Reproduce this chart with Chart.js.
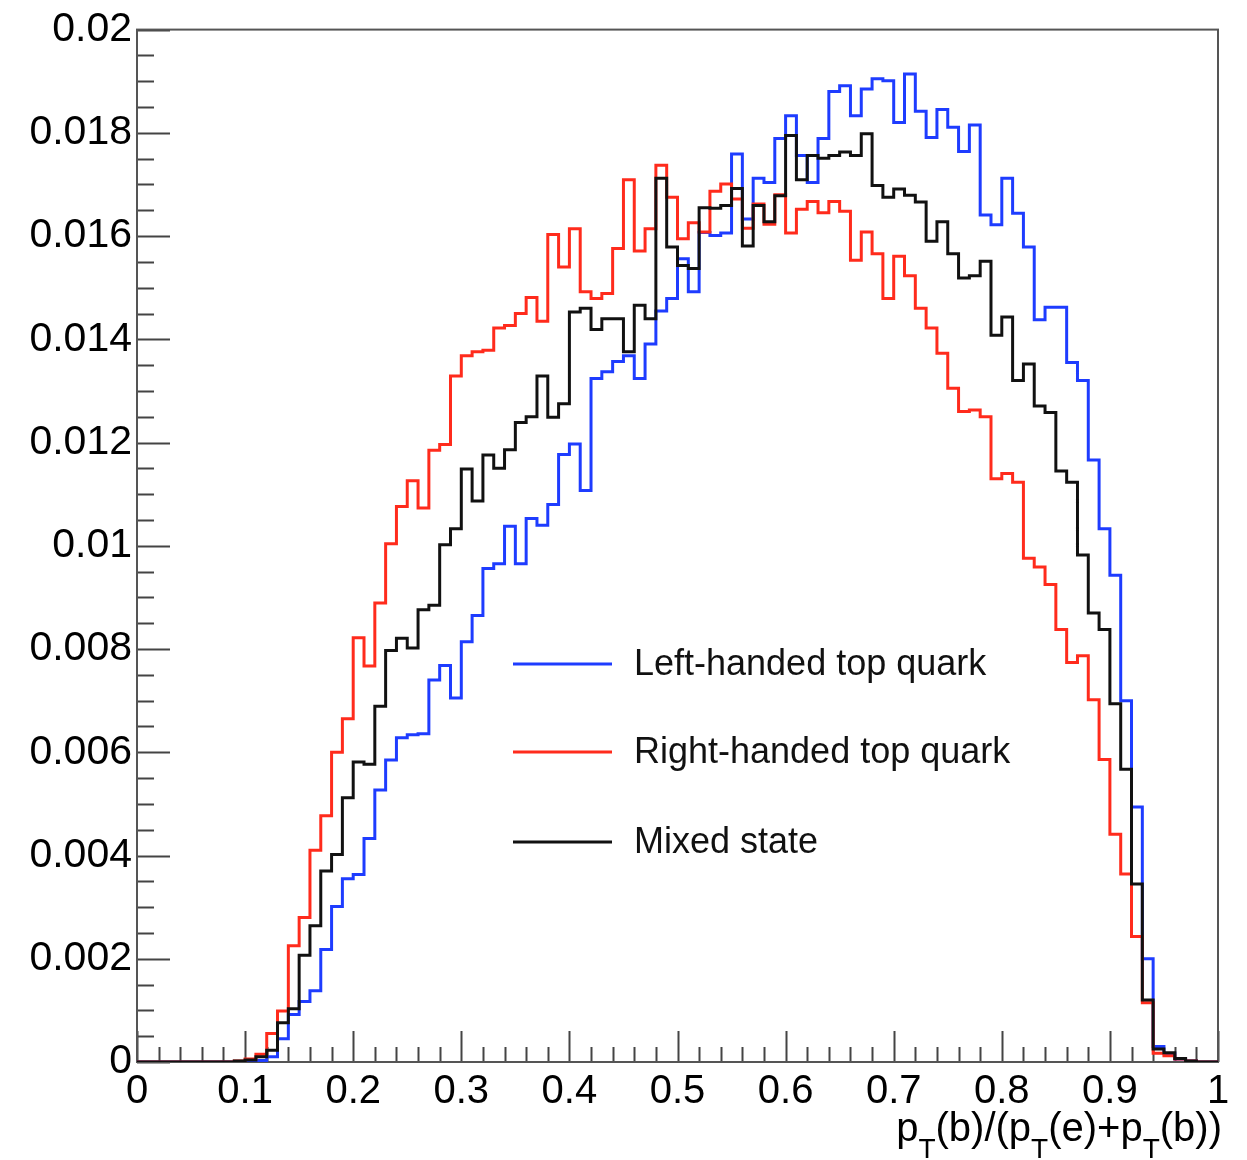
<!DOCTYPE html>
<html>
<head>
<meta charset="utf-8">
<title>pT(b)/(pT(e)+pT(b))</title>
<script src="https://cdn.jsdelivr.net/npm/chart.js"></script>
<style>
  body { margin: 0; background: #fff; }
  #wrap { width: 1247px; height: 1160px; position: relative; }
</style>
</head>
<body>
<div id="wrap"><canvas id="ptChart"></canvas></div>
<script>
// 100 bins between 0 and 1
const nBins = 100;
const xMin = 0, xMax = 1;
const binEdges = Array.from({ length: nBins + 1 }, (_, i) => xMin + (xMax - xMin) * i / nBins);

const seriesNames = ['Left-handed top quark', 'Right-handed top quark', 'Mixed state'];

const leftHanded = [
  0, 0, 0, 0, 0, 0, 0, 0, 0, 0,
  0, 0.00003, 0.0001, 0.00045, 0.00092, 0.00117, 0.00138, 0.00218, 0.00301, 0.00355,
  0.00363, 0.00433, 0.00527, 0.00585, 0.00628, 0.00634, 0.00636, 0.0074, 0.00768, 0.00705,
  0.00814, 0.00865, 0.00956, 0.00965, 0.01038, 0.00965, 0.01053, 0.0104, 0.0108, 0.01177,
  0.01197, 0.01107, 0.01324, 0.01337, 0.01357, 0.01368, 0.01324, 0.01391, 0.01455, 0.01479,
  0.01556, 0.01492, 0.01607, 0.01601, 0.01606, 0.01759, 0.01633, 0.01712, 0.01704, 0.01789,
  0.01833, 0.01756, 0.01704, 0.01789, 0.0188, 0.01891, 0.01833, 0.01885, 0.01905, 0.01901,
  0.0182, 0.01914, 0.01842, 0.01791, 0.01845, 0.01811, 0.01764, 0.01815, 0.01641, 0.01622,
  0.01712, 0.01644, 0.01579, 0.01438, 0.01462, 0.01462, 0.01355, 0.0132, 0.01166, 0.01033,
  0.00943, 0.007, 0.00494, 0.002, 0.0003, 0.00016, 0.00006, 0.00002, 0, 0
];

const rightHanded = [
  0, 0, 0, 0, 0, 0, 0, 0, 0, 0.00002,
  0.00006, 0.00015, 0.00055, 0.00099, 0.00225, 0.0028, 0.0041, 0.00477, 0.006, 0.00665,
  0.00822, 0.00767, 0.00889, 0.01004, 0.01076, 0.01126, 0.01073, 0.01185, 0.01196, 0.01329,
  0.01368, 0.01376, 0.01379, 0.01422, 0.01427, 0.0145, 0.01481, 0.01435, 0.01603, 0.0154,
  0.01614, 0.01492, 0.01479, 0.01489, 0.01576, 0.01709, 0.01571, 0.01614, 0.01737, 0.01675,
  0.01595, 0.01626, 0.01608, 0.01687, 0.01701, 0.01672, 0.01615, 0.01662, 0.01623, 0.0168,
  0.01606, 0.01652, 0.01667, 0.01645, 0.01667, 0.01648, 0.01553, 0.01608, 0.01566, 0.01479,
  0.01561, 0.01523, 0.0146, 0.01422, 0.01373, 0.01305, 0.0126, 0.01263, 0.0125, 0.0113,
  0.0114, 0.01123, 0.00976, 0.00959, 0.00925, 0.00838, 0.00774, 0.00787, 0.00702, 0.00586,
  0.00441, 0.00364, 0.00243, 0.00115, 0.00017, 0.00012, 0.00006, 0.00002, 0, 0
];

const mixed = [
  0, 0, 0, 0, 0, 0, 0, 0, 0, 0.00002,
  0.00004, 0.0001, 0.00023, 0.00076, 0.00103, 0.00207, 0.00264, 0.0037, 0.00402, 0.00512,
  0.00581, 0.00577, 0.00689, 0.00797, 0.00821, 0.00802, 0.00876, 0.00885, 0.01002, 0.01033,
  0.01149, 0.01087, 0.01176, 0.0115, 0.01186, 0.01239, 0.0125, 0.01329, 0.01249, 0.01275,
  0.01453, 0.0146, 0.01419, 0.0144, 0.0144, 0.01376, 0.01466, 0.0144, 0.01712, 0.01579,
  0.01543, 0.01537, 0.01655, 0.01654, 0.01659, 0.01692, 0.01581, 0.01659, 0.01628, 0.01678,
  0.01795, 0.01709, 0.01756, 0.01751, 0.01756, 0.01763, 0.01756, 0.01798, 0.01698, 0.01675,
  0.01691, 0.01679, 0.01666, 0.0159, 0.01628, 0.01566, 0.01519, 0.01523, 0.01551, 0.01408,
  0.01443, 0.0132, 0.01352, 0.01271, 0.01258, 0.01145, 0.01123, 0.00982, 0.0087, 0.00838,
  0.00694, 0.00567, 0.00345, 0.0012, 0.00025, 0.00018, 0.00007, 0.00002, 0, 0
];

const colors = ['#1e3cff', '#ff2b1c', '#111111'];
const FONT = "'Liberation Sans', Arial, Helvetica, sans-serif";

// histogram -> step points at bin low edges, plus the closing edge
function histPoints(values) {
  const pts = values.map((v, i) => ({ x: binEdges[i], y: v }));
  pts.push({ x: binEdges[nBins], y: values[nBins - 1] });
  return pts;
}

// ROOT-like frame, inward ticks, legend and x title
const rootFrame = {
  id: 'rootFrame',
  beforeDatasetsDraw(chart) {
    const { ctx, chartArea: a, scales: { x, y } } = chart;
    ctx.save();
    ctx.strokeStyle = '#444';
    ctx.lineWidth = 2;
    ctx.beginPath();
    for (let i = 0; i <= 40; i++) {
      const py = Math.round(y.getPixelForValue(i * 0.0005)) + 0.5;
      const len = i % 4 === 0 ? 33 : 17;
      ctx.moveTo(a.left, py); ctx.lineTo(a.left + len, py);
    }
    for (let i = 0; i <= 50; i++) {
      const px = Math.round(x.getPixelForValue(i * 0.02)) + 0.5;
      const len = i % 5 === 0 ? 31 : 15;
      ctx.moveTo(px, a.bottom); ctx.lineTo(px, a.bottom - len);
    }
    ctx.stroke();
    ctx.strokeStyle = '#555';
    ctx.strokeRect(a.left, a.top, a.right - a.left, a.bottom - a.top);
    ctx.restore();
  },
  afterDraw(chart) {
    const { ctx } = chart;
    ctx.save();
    // legend
    const rows = [664, 752, 842];
    ctx.font = '36px ' + FONT;
    ctx.textBaseline = 'middle';
    seriesNames.forEach((name, i) => {
      ctx.strokeStyle = colors[i];
      ctx.lineWidth = 3;
      ctx.beginPath();
      ctx.moveTo(513, rows[i]); ctx.lineTo(612, rows[i]);
      ctx.stroke();
      ctx.fillStyle = '#111';
      ctx.fillText(name, 634, rows[i] + 1);
    });
    // x axis title with subscripts
    const parts = [['p', 0], ['T', 1], ['(b)/(p', 0], ['T', 1], ['(e)+p', 0], ['T', 1], ['(b))', 0]];
    const big = '40px ' + FONT, small = '28px ' + FONT;
    let total = 0;
    parts.forEach(([t, s]) => { ctx.font = s ? small : big; total += ctx.measureText(t).width; });
    let cx = 1222 - total;
    ctx.textBaseline = 'alphabetic';
    ctx.fillStyle = '#000';
    parts.forEach(([t, s]) => {
      ctx.font = s ? small : big;
      ctx.fillText(t, cx, s ? 1158 : 1141);
      cx += ctx.measureText(t).width;
    });
    ctx.restore();
  }
};

new Chart(document.getElementById('ptChart'), {
  type: 'line',
  data: {
    datasets: [
      { label: seriesNames[0], data: histPoints(leftHanded), borderColor: colors[0], order: 2 },
      { label: seriesNames[1], data: histPoints(rightHanded), borderColor: colors[1], order: 1 },
      { label: seriesNames[2], data: histPoints(mixed), borderColor: colors[2], order: 0 }
    ].map(d => Object.assign(d, { stepped: 'before', borderWidth: 3, pointRadius: 0, fill: false }))
  },
  options: {
    responsive: true,
    maintainAspectRatio: false,
    animation: false,
    events: [],
    layout: { padding: { top: 27, right: 29, left: 0, bottom: 0 } },
    plugins: { legend: { display: false }, tooltip: { enabled: false } },
    scales: {
      x: {
        type: 'linear', min: 0, max: 1,
        grid: { display: false, drawTicks: false }, border: { display: false },
        ticks: {
          stepSize: 0.1, padding: 6, color: '#000', maxRotation: 0,
          font: { family: FONT, size: 40 },
          callback: v => String(+v.toFixed(1))
        },
        afterFit: s => { s.height = 98; }
      },
      y: {
        min: 0, max: 0.02,
        grid: { display: false, drawTicks: false }, border: { display: false },
        ticks: {
          stepSize: 0.002, padding: 5, color: '#000',
          font: { family: FONT, size: 41 },
          callback: v => String(+v.toFixed(3))
        },
        afterFit: s => { s.width = 137; }
      }
    }
  },
  plugins: [rootFrame]
});
</script>
</body>
</html>
